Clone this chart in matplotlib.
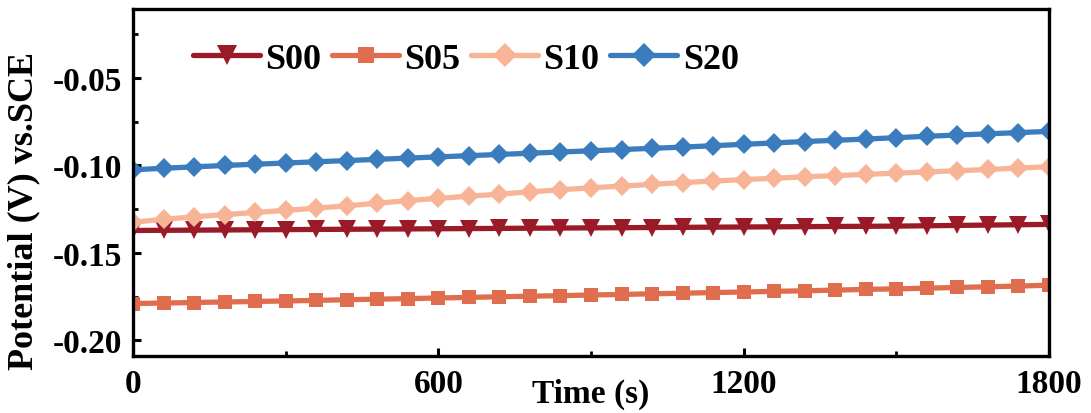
import matplotlib
matplotlib.use("Agg")
import matplotlib.pyplot as plt
from matplotlib.ticker import MultipleLocator

time_s = list(range(0, 1801, 60))

s00 = [-0.1372, -0.1371, -0.1370, -0.1369, -0.1368, -0.1367, -0.1366, -0.1365, -0.1364,
       -0.1363, -0.1362, -0.1361, -0.1360, -0.1359, -0.1358, -0.1357, -0.1356, -0.1355,
       -0.1354, -0.1353, -0.1352, -0.1351, -0.1350, -0.1349, -0.1348, -0.1347, -0.1345,
       -0.1343, -0.1341, -0.1339, -0.1337]
s05 = [-0.1790, -0.1787, -0.1784, -0.1781, -0.1778, -0.1775, -0.1772, -0.1768, -0.1765,
       -0.1762, -0.1758, -0.1755, -0.1751, -0.1748, -0.1745, -0.1741, -0.1738, -0.1734,
       -0.1731, -0.1727, -0.1724, -0.1720, -0.1717, -0.1713, -0.1709, -0.1706, -0.1702,
       -0.1698, -0.1694, -0.1690, -0.1685]
s10 = [-0.1325, -0.1308, -0.1294, -0.1281, -0.1269, -0.1257, -0.1244, -0.1231, -0.1216,
       -0.1201, -0.1188, -0.1176, -0.1164, -0.1151, -0.1139, -0.1128, -0.1118, -0.1108,
       -0.1098, -0.1089, -0.1081, -0.1073, -0.1065, -0.1058, -0.1051, -0.1044, -0.1037,
       -0.1030, -0.1023, -0.1015, -0.1007]
s20 = [-0.1025, -0.1016, -0.1008, -0.1000, -0.0993, -0.0986, -0.0979, -0.0972, -0.0965,
       -0.0958, -0.0951, -0.0944, -0.0937, -0.0930, -0.0923, -0.0916, -0.0909, -0.0902,
       -0.0895, -0.0887, -0.0879, -0.0871, -0.0863, -0.0856, -0.0849, -0.0841, -0.0833,
       -0.0826, -0.0819, -0.0812, -0.0805]

series_names = ["S00", "S05", "S10", "S20"]
series_values = [s00, s05, s10, s20]
colors = ["#9A1A28", "#E06E4E", "#F7B496", "#3A7CBD"]
markers = ["v", "s", "D", "D"]
msizes = [12.5, 10.5, 10.5, 10.5]

x_ticks = [0, 600, 1200, 1800]
y_ticks = [-0.20, -0.15, -0.10, -0.05]

plt.rcParams['font.family'] = ['Liberation Serif', 'DejaVu Serif']
plt.rcParams['font.weight'] = 'bold'

fig = plt.figure(figsize=(10.91, 4.14), dpi=100)
ax = fig.add_axes([0.1219, 0.1377, 0.9615 - 0.1219, 0.9758 - 0.1377])

for name, vals, c, m, ms in zip(series_names, series_values, colors, markers, msizes):
    ax.plot(time_s, vals, color=c, marker=m, markersize=ms, linewidth=3.8,
            label=name, markeredgewidth=0, solid_capstyle='round')

ax.set_xlim(0, 1800)
ax.set_ylim(-0.209, -0.0105)
ax.set_xticks(x_ticks)
ax.set_yticks(y_ticks)
ax.xaxis.set_minor_locator(MultipleLocator(300))
ax.yaxis.set_minor_locator(MultipleLocator(0.025))
ax.set_yticklabels([f"{v:.2f}" for v in y_ticks])

for sp in ax.spines.values():
    sp.set_linewidth(2.4)
ax.tick_params(which='major', direction='in', length=6, width=2.2, labelsize=24, pad=9)
ax.tick_params(which='minor', direction='in', length=3.5, width=2.0)
ax.tick_params(axis='y', which='major', pad=8)
for lab in ax.get_xticklabels() + ax.get_yticklabels():
    lab.set_fontweight('bold')

ax.set_xlabel("Time (s)", fontsize=24, fontweight='bold', labelpad=-16)
ax.set_ylabel("Potential (V) vs.SCE", fontsize=26, fontweight='bold')
ax.yaxis.set_label_coords(-0.101, 0.42)

leg = ax.legend(loc='upper left', ncol=4, frameon=False, bbox_to_anchor=(0.042, 0.965),
                prop={'size': 26, 'weight': 'bold'}, handlelength=1.85, markerscale=1.15,
                handletextpad=0.15, columnspacing=0.3, borderaxespad=0.2)

fig.savefig("out.png", dpi=100)
